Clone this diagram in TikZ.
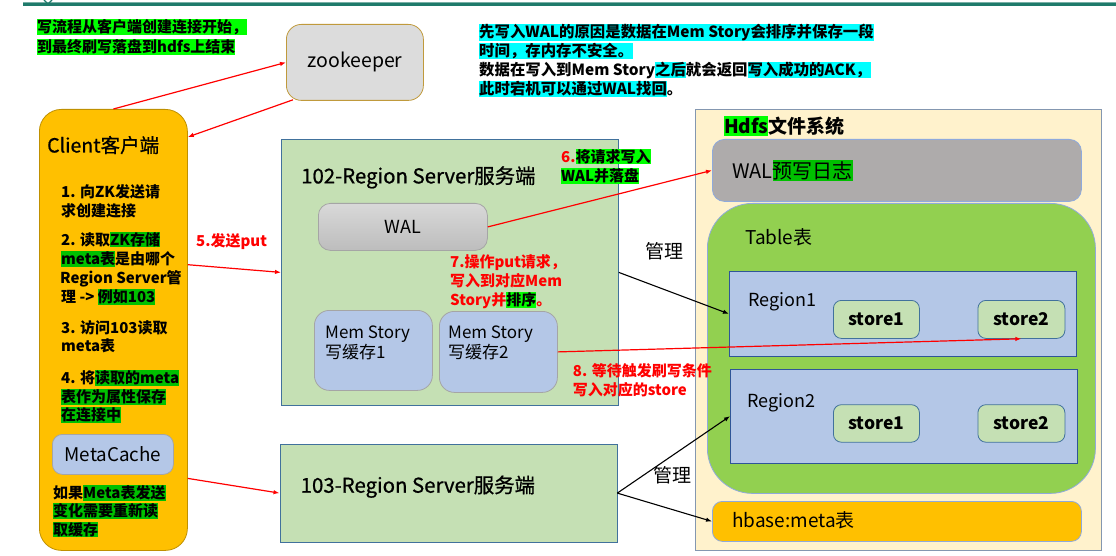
\documentclass[tikz,border=0pt]{standalone}
\usepackage{fontspec}
\setmainfont{Noto Sans CJK SC}
\newfontfamily\heavyfont[FakeBold=0.8]{Noto Sans CJK SC}
\usetikzlibrary{arrows.meta}

% palette
\definecolor{hlLime}{HTML}{00FF00}
\definecolor{hlDark}{HTML}{00C000}
\definecolor{hlCyan}{HTML}{00FFFF}
\definecolor{redA}{HTML}{FF0000}
\definecolor{clientFill}{HTML}{FFC000}
\definecolor{clientLine}{HTML}{BF9000}
\definecolor{zkFill}{HTML}{DCDCDC}
\definecolor{zkLine}{HTML}{C09A3C}
\definecolor{srvFill}{HTML}{C5E0B4}
\definecolor{srvLine}{HTML}{41719C}
\definecolor{memFill}{HTML}{B4C7E7}
\definecolor{memLine}{HTML}{A5A5A5}
\definecolor{hdfsFill}{HTML}{FFF2CC}
\definecolor{hdfsLine}{HTML}{8497B0}
\definecolor{walGray}{HTML}{AEABAB}
\definecolor{tableFill}{HTML}{92D050}
\definecolor{softBlue}{HTML}{8FAADC}
\definecolor{regLine}{HTML}{2F5597}
\definecolor{tealBar}{HTML}{1F7A6B}

\newcommand\fsz[1]{\fontsize{#1}{#1}\selectfont}
\newcommand\hlbox[2]{{\setlength{\fboxsep}{0pt}\colorbox{#1}{\vrule width 0pt height .9em depth .14em\relax #2}}}
\newcommand\hlg[1]{\hlbox{hlLime}{#1}}
\newcommand\hld[1]{\hlbox{hlDark}{#1}}
\newcommand\hlc[1]{\hlbox{hlCyan}{#1}}

\tikzset{
  box/.style={draw, inner sep=0pt, anchor=north west, line width=0.8pt},
  lineL/.style={anchor=base west, inner sep=0pt},
  note/.style={lineL, font=\fsz{15}\bfseries},
  rednote/.style={note, text=redA},
  redarr/.style={draw=redA, line width=1.2pt, -{Latex[length=6pt,width=4.5pt]}},
  blkarr/.style={draw=black, line width=1.1pt, -{Latex[length=6pt,width=4.5pt]}},
}

\begin{document}
\begin{tikzpicture}[x=1pt,y=-1pt]
\useasboundingbox (0,0) rectangle (1116,556);

% header bar
\fill[tealBar] (23,2.5) rectangle (1116,6.5);
\fill[tealBar!60] (23,1.8) rectangle (1116,2.5);
\draw[tealBar, line width=1.2pt] (44,0) -- (48,4) -- (52,0);

% opening note
\node[note] (intro1) at (37,33) {\hlg{写流程从客户端创建连接开始，}};
\node[note] (intro2) at (37,52.5) {\hlg{到最终刷写落盘到hdfs上结束}};

% WAL explanation
\node[note, font=\fsz{15.4}\bfseries] (why1) at (479,37.5) {\hlc{先写入WAL的原因是数据在Mem Story会排序并保存一段}};
\node[note, font=\fsz{15.4}\bfseries] (why2) at (479,56.5) {\hlc{时间，存内存不安全。}};
\node[note, font=\fsz{15.4}\bfseries] (why3) at (479,76) {数据在写入到Mem Story\hlc{之后}就会返回\hlc{写入成功的ACK，}};
\node[note, font=\fsz{15.4}\bfseries] (why4) at (479,95) {\hlc{此时宕机可以通过WAL找回}。};

% zookeeper
\node[box, fill=zkFill, draw=zkLine, rounded corners=15pt, minimum width=137pt, minimum height=76pt, font=\fsz{19.5}] (zk) at (286,24) {zookeeper};

% client
\node[box, fill=clientFill, draw=clientLine, rounded corners=22pt, minimum width=148pt, minimum height=441pt] (client) at (39,109) {};
\node[lineL, font=\fsz{19.5}\heavyfont] (clientT) at (47,152.5) {Client客户端};
\node[note] (c1a) at (61,197.4) {1. 向ZK发送请};
\node[note] (c1b) at (61,216) {求创建连接};
\node[note] (c2a) at (61,245) {2. 读取\hld{ZK存储}};
\node[note] (c2b) at (61,264.7) {\hld{meta表}是由哪个};
\node[note] (c2c) at (60,283.7) {Region Server管};
\node[note] (c2d) at (61,302.4) {理 -> \hld{例如103}};
\node[note] (c3a) at (61,333.4) {3. 访问103读取};
\node[note] (c3b) at (61,351.7) {meta表};
\node[note] (c4a) at (61,383.7) {4. 将\hld{读取的meta}};
\node[note] (c4b) at (61,402.4) {\hld{表作为属性保存}};
\node[note] (c4c) at (61,420.7) {\hld{在连接中}};
\node[box, fill=memFill, draw=memLine, rounded corners=10pt, minimum width=121pt, minimum height=40pt, font=\fsz{18.8}] (mcache) at (52,434) {MetaCache};
\node[note] (c5a) at (53,498.4) {如果\hld{Meta表发送}};
\node[note] (c5b) at (53,516.4) {\hld{变化需要重新读}};
\node[note] (c5c) at (53,535) {\hld{取缓存}};

% region server 102
\node[box, fill=srvFill, draw=srvLine, minimum width=337pt, minimum height=266pt] (s102) at (281,139) {};
\node[lineL, font=\fsz{20.4}\heavyfont] (s102T) at (301,183.4) {102-Region Server服务端};
\node[box, top color=black!15, bottom color=black!26, draw=memLine, rounded corners=12pt, minimum width=169pt, minimum height=47pt, font=\fsz{18}] (wal) at (318,203) {WAL};
\node[box, fill=memFill, draw=memLine, rounded corners=15pt, minimum width=118pt, minimum height=80pt] (mem1) at (314,310) {};
\node[lineL, font=\fsz{17}] (mem1a) at (325,338.2) {Mem Story};
\node[lineL, font=\fsz{17}] (mem1b) at (325,358.2) {写缓存1};
\node[box, fill=memFill, draw=memLine, rounded corners=15pt, minimum width=118pt, minimum height=81pt] (mem2) at (439,311) {};
\node[lineL, font=\fsz{17}] (mem2a) at (448,338.2) {Mem Story};
\node[lineL, font=\fsz{17}] (mem2b) at (448,358.2) {写缓存2};

% region server 103
\node[box, fill=srvFill, draw=srvLine, minimum width=337pt, minimum height=98pt] (s103) at (279.5,443.7) {};
\node[lineL, font=\fsz{20.4}\heavyfont] (s103T) at (300.5,492.7) {103-Region Server服务端};

% hdfs
\node[box, fill=hdfsFill, draw=hdfsLine, minimum width=406pt, minimum height=441pt] (hdfs) at (695,109) {};
\node[lineL, font=\fsz{19}\bfseries] (hdfsT) at (724,133.2) {\hlg{Hdfs}文件系统};
\node[box, fill=walGray, draw=softBlue, rounded corners=12pt, minimum width=369pt, minimum height=62pt] (hwal) at (712,139) {};
\node[lineL, font=\fsz{20}] (hwalT) at (732,178.3) {WAL\hld{预写日志}};
\node[box, fill=tableFill, draw=softBlue, rounded corners=45pt, minimum width=388pt, minimum height=290pt] (table) at (707,203) {};
\node[lineL, font=\fsz{19}] (tableT) at (745,244.8) {Table表};
\node[box, fill=memFill, draw=regLine, minimum width=347pt, minimum height=85pt] (r1) at (729,271) {};
\node[lineL, font=\fsz{18}] (r1T) at (748,306) {Region1};
\node[box, fill=srvFill, draw=srvLine, rounded corners=8pt, minimum width=86pt, minimum height=38pt, font=\fsz{17.5}\bfseries] (r1s1) at (833,300) {store1};
\node[box, fill=srvFill, draw=srvLine, rounded corners=8pt, minimum width=87pt, minimum height=38pt, font=\fsz{17.5}\bfseries] (r1s2) at (977.5,300) {store2};
\node[box, fill=memFill, draw=regLine, minimum width=347pt, minimum height=93.5pt] (r2) at (730,369) {};
\node[lineL, font=\fsz{18}] (r2T) at (747,407.5) {Region2};
\node[box, fill=srvFill, draw=srvLine, rounded corners=8pt, minimum width=86pt, minimum height=37.5pt, font=\fsz{17.5}\bfseries] (r2s1) at (833,404.3) {store1};
\node[box, fill=srvFill, draw=srvLine, rounded corners=8pt, minimum width=87pt, minimum height=37.5pt, font=\fsz{17.5}\bfseries] (r2s2) at (977.5,404.3) {store2};
\node[box, fill=clientFill, draw=softBlue, rounded corners=10pt, minimum width=369pt, minimum height=40pt] (meta) at (712,501) {};
\node[lineL, font=\fsz{19}] (metaT) at (732,527.2) {hbase:meta表};

% step labels
\node[rednote] (st5) at (196,246.4) {5.发送put};
\node[note] (st6a) at (561,162.4) {\textcolor{redA}{6.}\hlg{将请求写入}};
\node[note] (st6b) at (561,181.7) {\hlg{WAL并落盘}};
\node[rednote] (st7a) at (450,267.4) {7.操作put请求，};
\node[rednote] (st7b) at (450,286.7) {写入到对应Mem};
\node[rednote] (st7c) at (450,305.7) {Story并\hlg{\textcolor{black}{排序}}。};
\node[rednote] (st8a) at (572.7,376.4) {8. 等待触发刷写条件};
\node[rednote] (st8b) at (572.7,395) {写入对应的store};
\node[lineL, font=\fsz{19}] (mg1) at (645,258.9) {管理};
\node[lineL, font=\fsz{19}] (mg2) at (653.5,482.9) {管理};

% connectors
\draw[redarr] (client.north) -- (zk.west);
\draw[redarr] ([xshift=7pt,yshift=1pt]zk.south west) -- ([yshift=-28pt]client.north east);
\draw[redarr] ([yshift=65.2pt]client.east) -- (s102.west);
\draw[redarr] ([yshift=-148.5pt]client.east) -- (s103.west);
\draw[redarr] (wal.east) -- (hwal.west);
\draw[redarr] (mem2.east) -- (r1s2.south);
\draw[blkarr] (s102.east) -- (r1.west);
\draw[blkarr] (s103.east) -- (r2.west);
\draw[blkarr] (s103.east) -- (meta.west);
\end{tikzpicture}
\end{document}
